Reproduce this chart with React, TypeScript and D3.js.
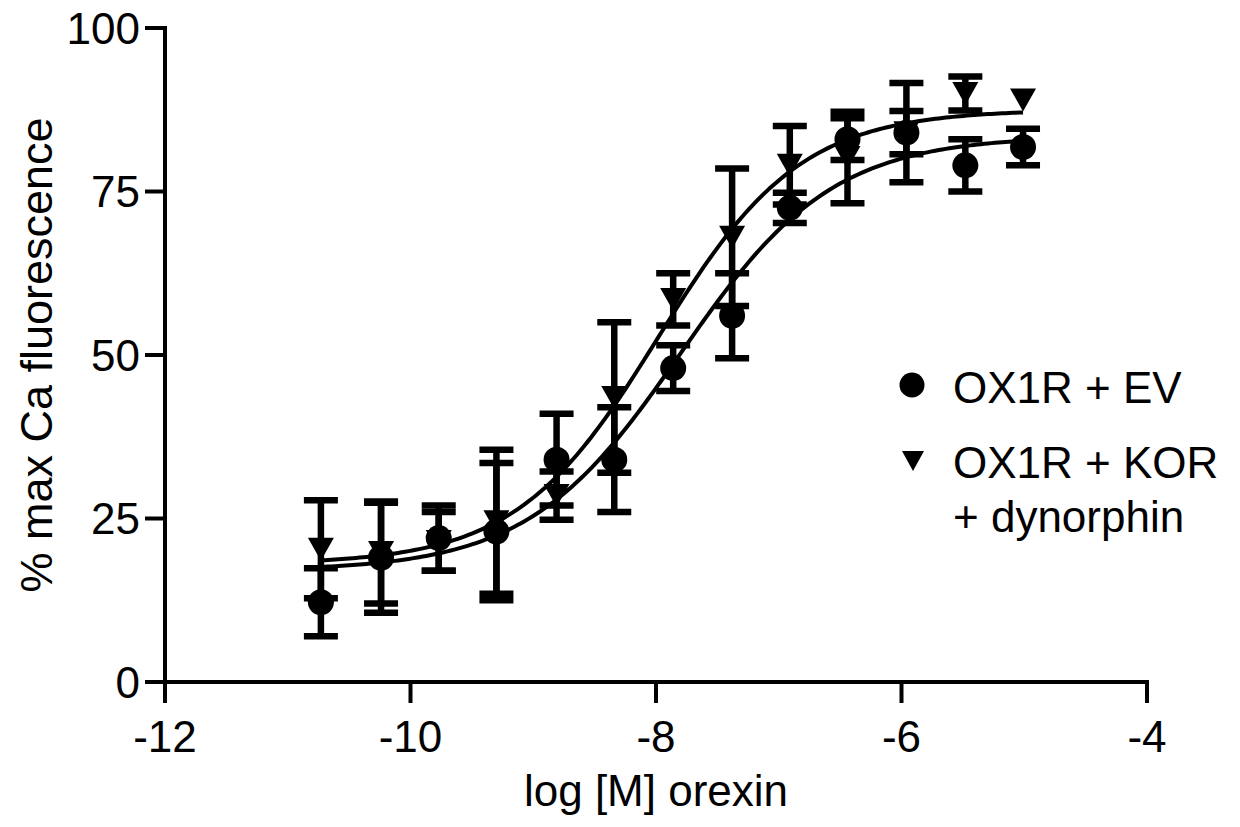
import React from "react";
import * as d3 from "d3";

// log [M] orexin doses
const doses = [-10.73, -10.24, -9.77, -9.3, -8.81, -8.34, -7.86, -7.38, -6.91, -6.44, -5.96, -5.48, -5.01];
// OX1R + EV
const evMean = [12.2, 19.0, 22.0, 23.0, 34.0, 34.0, 48.0, 56.0, 72.5, 83.0, 84.0, 79.0, 81.8];
const evSem = [5.2, 8.4, 5.0, 10.5, 7.0, 8.0, 3.5, 6.5, 2.3, 3.2, 7.6, 4.0, 2.8];
// OX1R + KOR + dynorphin
const korMean = [20.3, 19.8, 21.5, 24.5, 28.5, 43.5, 58.5, 68.0, 79.0, 80.2, 84.0, 90.0, 89.0];
const korSem = [7.5, 7.8, 4.5, 11.0, 3.7, 11.5, 4.0, 10.5, 6.0, 7.0, 3.3, 2.6, 0.8];
// 4-parameter logistic fit parameters [bottom, top, logEC50, hill]
const evFit = [17, 83.5, -7.8, 0.7];
const korFit = [18, 87.5, -7.98, 0.75];

const xTicks = [-12, -10, -8, -6, -4];
const yTicks = [0, 25, 50, 75, 100];

const FONT = "'Liberation Sans', Arial, Helvetica, sans-serif";

function fitCurve(p: number[], x: number) {
  const [b, t, c, h] = p;
  return b + (t - b) / (1 + Math.pow(10, (c - x) * h));
}

export default function App() {
  const x = d3.scaleLinear().domain([-12, -4]).range([165, 1147]);
  const y = d3.scaleLinear().domain([0, 100]).range([682, 28]);

  const xs = d3.range(0, 201).map((i) => doses[0] + ((doses[doses.length - 1] - doses[0]) * i) / 200);
  const line = d3
    .line<number[]>()
    .x((d) => x(d[0]))
    .y((d) => y(d[1]))
    .curve(d3.curveLinear);

  const evPath = line(xs.map((v) => [v, fitCurve(evFit, v)])) || "";
  const korPath = line(xs.map((v) => [v, fitCurve(korFit, v)])) || "";

  const capW = 17;
  const tri = (cx: number, cy: number, w: number, h: number) =>
    `M${cx - w / 2},${cy - h / 2}L${cx + w / 2},${cy - h / 2}L${cx},${cy + h / 2}Z`;

  const errBars = (means: number[], sems: number[], key: string, half: number) =>
    means.map((m, i) => {
      const cx = x(doses[i]);
      const y1 = y(m + sems[i]);
      const y0 = y(m - sems[i]);
      // like Prism: bars shorter than the symbol are hidden
      if (Math.abs(y0 - y1) / 2 < half) return null;
      return (
        <g key={key + i} stroke="#000" strokeWidth={6.5}>
          <line x1={cx} x2={cx} y1={y1} y2={y0} />
          <line x1={cx - capW} x2={cx + capW} y1={y1} y2={y1} />
          <line x1={cx - capW} x2={cx + capW} y1={y0} y2={y0} />
        </g>
      );
    });

  return (
    <svg
      width={1240}
      height={827}
      style={{ position: "absolute", left: 0, top: 0, background: "#fff" }}
      fontFamily={FONT}
    >
      <rect x={0} y={0} width={1240} height={827} fill="#fff" />
      {/* axes */}
      <g stroke="#000" strokeWidth={4} fill="none">
        <line x1={x(-12)} x2={x(-12)} y1={y(100) - 2} y2={703} />
        <line x1={x(-12) - 2} x2={x(-4) + 2} y1={y(0)} y2={y(0)} />
        {yTicks.map((t) => (
          <line key={"yt" + t} x1={x(-12) - 20} x2={x(-12)} y1={y(t)} y2={y(t)} />
        ))}
        {xTicks.map((t) => (
          <line key={"xt" + t} x1={x(t)} x2={x(t)} y1={y(0)} y2={703} />
        ))}
      </g>
      {yTicks.map((t) => (
        <text key={"yl" + t} x={140} y={y(t)} dy="0.36em" textAnchor="end" fontSize={44} fill="#000">
          {t}
        </text>
      ))}
      {xTicks.map((t) => (
        <text key={"xl" + t} x={x(t)} y={752} textAnchor="middle" fontSize={44} fill="#000">
          {t}
        </text>
      ))}
      <text x={x(-8)} y={806} textAnchor="middle" fontSize={44} fill="#000">
        log [M] orexin
      </text>
      <text transform="translate(52,355) rotate(-90)" textAnchor="middle" fontSize={45} fill="#000">
        % max Ca fluorescence
      </text>

      {/* fit curves */}
      <path d={evPath} fill="none" stroke="#000" strokeWidth={4} />
      <path d={korPath} fill="none" stroke="#000" strokeWidth={4} />

      {errBars(evMean, evSem, "ev", 6)}
      {errBars(korMean, korSem, "kor", 6)}

      {evMean.map((m, i) => (
        <circle key={"evp" + i} cx={x(doses[i])} cy={y(m)} r={13} fill="#000" />
      ))}
      {korMean.map((m, i) => (
        <path key={"kp" + i} d={tri(x(doses[i]), y(m), 26, 23)} fill="#000" />
      ))}

      {/* legend */}
      <circle cx={912} cy={385} r={12.5} fill="#000" />
      <text x={953} y={403} fontSize={44} fill="#000">
        OX1R + EV
      </text>
      <path d={tri(913, 461, 22, 20)} fill="#000" />
      <text x={953} y={478} fontSize={44} fill="#000">
        OX1R + KOR
      </text>
      <text x={953} y={532} fontSize={44} fill="#000">
        + dynorphin
      </text>
    </svg>
  );
}
